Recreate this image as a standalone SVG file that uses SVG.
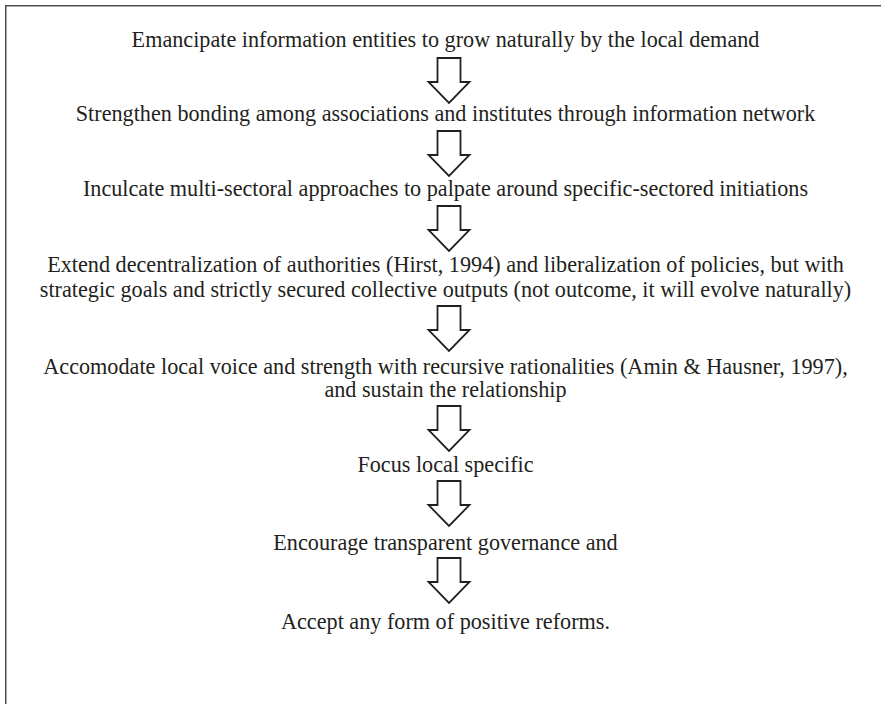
<svg xmlns="http://www.w3.org/2000/svg" xmlns:xlink="http://www.w3.org/1999/xlink" width="881" height="704" viewBox="0 0 881 704">
  <style>
    text { font-family: 'Liberation Serif', 'Times New Roman', serif; font-size: 22.2px; fill: #231f20; text-anchor: middle; }
    .frame { fill: none; stroke: #4d4d4d; stroke-width: 1.5; }
    .arrow { fill: #ffffff; stroke: #231f20; stroke-width: 1.8; stroke-linejoin: miter; }
  </style>
  <defs>
    <!-- hollow block arrow pointing down, origin at top centre of the shaft -->
    <path id="down" class="arrow" d="M-11.5,0 H11.5 V24 H20.5 L0,45 L-20.5,24 H-11.5 Z"/>
  </defs>
  <rect width="881" height="704" fill="#ffffff"/>
  <path class="frame" d="M5.75,704 V5.75 H881"/>

  <g id="step1"><text x="445.5" y="47">Emancipate information entities to grow naturally by the local demand</text></g>
  <g id="step2"><text x="445.5" y="121">Strengthen bonding among associations and institutes through information network</text></g>
  <g id="step3"><text x="445.5" y="196">Inculcate multi-sectoral approaches to palpate around specific-sectored initiations</text></g>
  <g id="step4">
    <text x="445.5" y="272">Extend decentralization of authorities (Hirst, 1994) and liberalization of policies, but with</text>
    <text x="445.5" y="297">strategic goals and strictly secured collective outputs (not outcome, it will evolve naturally)</text>
  </g>
  <g id="step5">
    <text x="445.5" y="374">Accomodate local voice and strength with recursive rationalities (Amin &amp; Hausner, 1997),</text>
    <text x="445.5" y="397">and sustain the relationship</text>
  </g>
  <g id="step6"><text x="445.5" y="472">Focus local specific</text></g>
  <g id="step7"><text x="445.5" y="550">Encourage transparent governance and</text></g>
  <g id="step8"><text x="445.5" y="629">Accept any form of positive reforms.</text></g>

  <g id="connectors">
    <use xlink:href="#down" x="449" y="58"/>
    <use xlink:href="#down" x="449" y="131"/>
    <use xlink:href="#down" x="449" y="206"/>
    <use xlink:href="#down" x="449" y="306"/>
    <use xlink:href="#down" x="449" y="406"/>
    <use xlink:href="#down" x="449" y="481"/>
    <use xlink:href="#down" x="449" y="558"/>
  </g>
</svg>
